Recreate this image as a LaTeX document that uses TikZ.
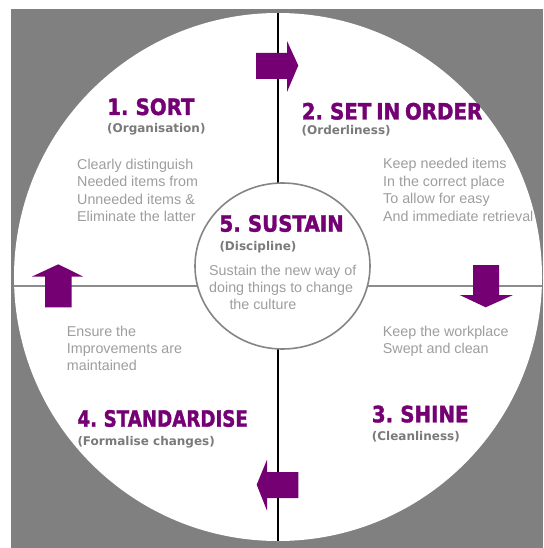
\documentclass[tikz,border=0pt]{standalone}
\usepackage{fontspec}
\setmainfont{Liberation Sans}
\newfontfamily\titlefont[FakeStretch=0.88,FakeBold=1.5,WordSpace=0.7,UprightFont={* Bold}]{DejaVu Sans}
\newfontfamily\subfont{DejaVu Sans}
\usetikzlibrary{shapes.geometric}
\definecolor{bggray}{HTML}{808080}
\definecolor{pur}{HTML}{740074}
\definecolor{subgray}{HTML}{7A7A7A}
\definecolor{bodygray}{HTML}{9E9E9E}
\definecolor{hlinegray}{HTML}{8C8C8C}
\definecolor{ringgray}{HTML}{858585}
\tikzset{
  ttl/.style={anchor=base west, inner sep=0pt, text=pur, font=\titlefont\fontsize{22.5}{27}\selectfont},
  subttl/.style={anchor=base west, inner sep=0pt, text=subgray, font=\subfont\bfseries\fontsize{12}{14}\selectfont},
  bodytxt/.style={anchor=base west, inner sep=0pt, text=bodygray, font=\fontsize{14.3}{17}\selectfont},
  arrowfill/.style={fill=pur, draw=none},
}
\begin{document}
\begin{tikzpicture}[x=1pt,y=-1pt]
\useasboundingbox (0,0) rectangle (543,548);
\fill[bggray] (11,9) rectangle (543,548);
\fill[white] (278,277) circle[radius=264pt];
\coordinate (ctop) at (278,13);
\coordinate (cbot) at (278,541);
\coordinate (cleft) at (14.2,286);
\coordinate (cright) at (541.8,286);
\draw[line width=1.8pt] (ctop) -- (cbot);
\draw[hlinegray, line width=2pt] (cleft) -- (cright);
\node[draw=ringgray, line width=1.6pt, fill=white, ellipse, minimum width=175pt, minimum height=166pt, inner sep=0pt] (sustain) at (282.5,266) {};
% arrows
\fill[arrowfill] (256,53) -- (287,53) -- (287,41) -- (298.3,65.5) -- (287,92) -- (287,79) -- (256,79) -- cycle;
\fill[arrowfill] (473,265) -- (499,265) -- (499,295) -- (513,295) -- (485.7,307.3) -- (459.7,295) -- (473,295) -- cycle;
\fill[arrowfill] (298.3,472) -- (267,472) -- (267,459.7) -- (256.7,484.7) -- (267,510.7) -- (267,498) -- (298.3,498) -- cycle;
\fill[arrowfill] (45,307.3) -- (45,276.7) -- (31.7,276.7) -- (58.3,264.3) -- (83.3,276.7) -- (71.7,276.7) -- (71.7,307.3) -- cycle;
% 1. SORT
\node[ttl] (t1) at (107,115) {1. SORT};
\node[subttl] (s1) at (107,133) {(Organisation)};
\node[bodytxt] (b1a) at (77,169) {Clearly distinguish};
\node[bodytxt] (b1b) at (77,186.5) {Needed items from};
\node[bodytxt] (b1c) at (77,204) {Unneeded items \&};
\node[bodytxt] (b1d) at (77,221.5) {Eliminate the latter};
% 2. SET IN ORDER
\node[ttl] (t2) at (301.5,119.5) {2. SET IN ORDER};
\node[subttl] (s2) at (301.5,134.5) {(Orderliness)};
\node[bodytxt] (b2a) at (383,168.5) {Keep needed items};
\node[bodytxt] (b2b) at (383,186) {In the correct place};
\node[bodytxt] (b2c) at (383,203.5) {To allow for easy};
\node[bodytxt] (b2d) at (383,221) {And immediate retrieval};
% 5. SUSTAIN
\node[ttl] (t5) at (219.3,231.7) {5. SUSTAIN};
\node[subttl] (s5) at (219.3,250) {(Discipline)};
\node[bodytxt] (b5a) at (209,275) {Sustain the new way of};
\node[bodytxt] (b5b) at (209,292) {doing things to change};
\node[bodytxt] (b5c) at (229.3,309) {the culture};
% 4. STANDARDISE
\node[bodytxt] (b4a) at (66.7,336.7) {Ensure the};
\node[bodytxt] (b4b) at (66.7,353.5) {Improvements are};
\node[bodytxt] (b4c) at (66.7,370.7) {maintained};
\node[ttl] (t4) at (77.3,426.7) {\scalebox{0.92}[1]{4. STANDARDISE}};
\node[subttl] (s4) at (77.3,445) {(Formalise changes)};
% 3. SHINE
\node[bodytxt] (b3a) at (382.7,336.7) {Keep the workplace};
\node[bodytxt] (b3b) at (382.7,353.5) {Swept and clean};
\node[ttl] (t3) at (371.7,422.3) {3. SHINE};
\node[subttl] (s3) at (371.7,440) {(Cleanliness)};
\end{tikzpicture}
\end{document}
